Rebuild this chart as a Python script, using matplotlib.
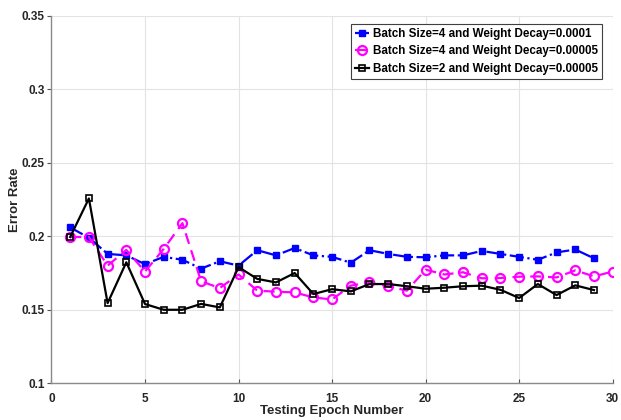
import matplotlib
matplotlib.use('Agg')
import matplotlib.pyplot as plt

# datos
epocas_29 = list(range(1, 30))
epocas_30 = list(range(1, 31))

err_b4_wd1e4 = [0.206, 0.199, 0.188, 0.187, 0.181, 0.186, 0.184, 0.178, 0.183, 0.180,
                0.1905, 0.187, 0.192, 0.187, 0.186, 0.182, 0.1905, 0.188, 0.186, 0.1857,
                0.187, 0.187, 0.190, 0.188, 0.186, 0.184, 0.189, 0.191, 0.185]
err_b4_wd5e5 = [0.1995, 0.1995, 0.180, 0.1907, 0.176, 0.1914, 0.2089, 0.1693, 0.1648, 0.174,
                0.163, 0.1623, 0.1618, 0.1584, 0.157, 0.1664, 0.1686, 0.166, 0.163, 0.1773,
                0.174, 0.1755, 0.1714, 0.1716, 0.1725, 0.1727, 0.172, 0.1768, 0.1727, 0.176]
err_b2_wd5e5 = [0.1995, 0.2257, 0.1545, 0.1823, 0.1539, 0.150, 0.150, 0.154, 0.1516, 0.179,
                0.171, 0.1686, 0.175, 0.1607, 0.164, 0.1625, 0.1675, 0.1675, 0.166, 0.1643,
                0.165, 0.166, 0.1664, 0.1636, 0.158, 0.1675, 0.160, 0.1666, 0.1634]

etiquetas = ['Batch Size=4 and Weight Decay=0.0001',
             'Batch Size=4 and Weight Decay=0.00005',
             'Batch Size=2 and Weight Decay=0.00005']

plt.rcParams['font.family'] = 'Liberation Sans'
plt.rcParams['font.weight'] = 'bold'

fig = plt.figure(figsize=(6.21, 4.2), dpi=100)
ax = fig.add_axes([0.0829, 0.0874, 0.9037, 0.8752])

ax.plot(epocas_29, err_b4_wd1e4, color='#0000ff', linestyle='-.', linewidth=1.6,
        marker='s', markersize=5, markerfacecolor='#0000ff', label=etiquetas[0])
ax.plot(epocas_30, err_b4_wd5e5, color='#ff00ff', linestyle='--', linewidth=1.6,
        marker='o', markersize=6.5, markerfacecolor='none', markeredgewidth=1.6,
        dashes=(5, 3), label=etiquetas[1])
ax.plot(epocas_29, err_b2_wd5e5, color='black', linestyle='-', linewidth=1.6,
        marker='s', markersize=4.5, markerfacecolor='none', markeredgewidth=1.2,
        label=etiquetas[2])

ax.set_xlim(0, 30)
ax.set_ylim(0.1, 0.35)
ax.set_xticks([0, 5, 10, 15, 20, 25, 30])
ax.set_yticks([0.1, 0.15, 0.2, 0.25, 0.3, 0.35])
ax.set_yticklabels(['0.1', '0.15', '0.2', '0.25', '0.3', '0.35'])
ax.grid(True, color='#e3e3e3', linewidth=0.8)
ax.set_axisbelow(True)

for lado in ['top', 'right']:
    ax.spines[lado].set_visible(False)
for lado in ['left', 'bottom']:
    ax.spines[lado].set_color('#8a8a8a')
    ax.spines[lado].set_linewidth(1.0)

ax.tick_params(axis='x', direction='in', length=3, color='#555555', labelsize=8.5, pad=7)
ax.tick_params(axis='y', direction='out', length=3, color='#555555', labelsize=8.5, pad=2)
for lbl in ax.get_xticklabels() + ax.get_yticklabels():
    lbl.set_fontweight('bold')
    lbl.set_color('#262626')

ax.set_xlabel('Testing Epoch Number', fontsize=9.5, fontweight='bold', color='#262626', labelpad=0)
ax.set_ylabel('Error Rate', fontsize=9.5, fontweight='bold', color='#262626', labelpad=0)

leg = ax.legend(loc='upper right', bbox_to_anchor=(0.985, 0.985),
                prop={'weight': 'bold', 'size': 8.4}, fancybox=False, framealpha=1,
                edgecolor='#404040', handlelength=1.2, handletextpad=0.3,
                borderpad=0.35, labelspacing=0.5, borderaxespad=0.2)
leg.get_frame().set_linewidth(0.8)

fig.savefig('out.png', dpi=100)
